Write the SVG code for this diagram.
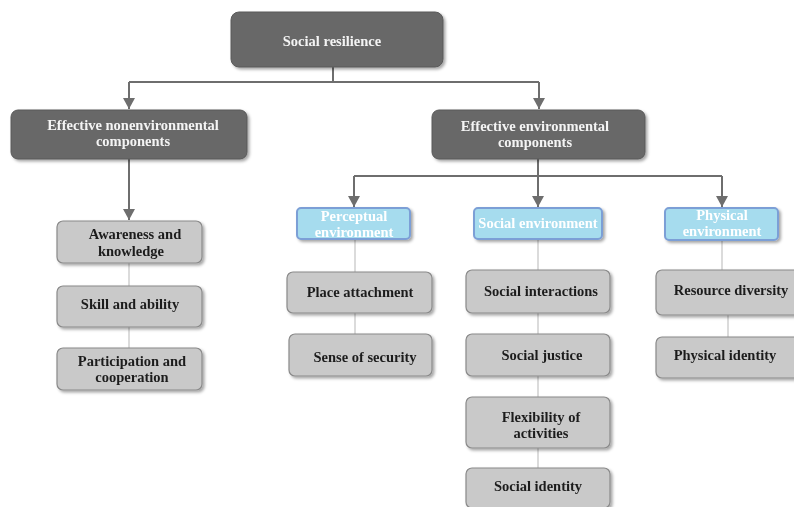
<svg xmlns="http://www.w3.org/2000/svg" width="794" height="507" viewBox="0 0 794 507">
<defs>
<style>
.dark{fill:#686868;stroke:#5a5a5a;stroke-width:1}
.blue{fill:#a6dcee;stroke:#7c9fd6;stroke-width:2}
.gray{fill:#c9c9c9;stroke:#8a8a8a;stroke-width:1.2}
text{font-family:"Liberation Serif","Times New Roman",serif;font-weight:bold;font-size:14.5px;text-anchor:middle}
.wt{fill:#f4f4f4}
.bt{fill:#ffffff}
.kt{fill:#1e1e1e}
.arrow{fill:none;stroke:#6e6e6e;stroke-width:2}
.thin{fill:none;stroke:#c4c4c4;stroke-width:1.2}
</style>
<filter id="sh" x="-10%" y="-10%" width="130%" height="140%">
<feDropShadow dx="2" dy="2" stdDeviation="1.5" flood-color="#000" flood-opacity="0.35"/>
</filter>
<marker id="ah" viewBox="0 0 11 12" refX="11" refY="6" markerWidth="11" markerHeight="12" markerUnits="userSpaceOnUse" orient="auto">
<path d="M0,0 L11,6 L0,12 Z" fill="#6e6e6e"/>
</marker>
</defs>
<rect width="794" height="507" fill="#ffffff"/>

<g id="connectors">
<path class="arrow" d="M333,67 V82"/>
<path class="arrow" d="M129,82 H539"/>
<line class="arrow" x1="129" y1="82" x2="129" y2="109" marker-end="url(#ah)"/>
<line class="arrow" x1="539" y1="82" x2="539" y2="109" marker-end="url(#ah)"/>
<line class="arrow" x1="129" y1="159" x2="129" y2="220" marker-end="url(#ah)"/>
<line class="arrow" x1="538" y1="159" x2="538" y2="207" marker-end="url(#ah)"/>
<path class="arrow" d="M354,176 H722"/>
<line class="arrow" x1="354" y1="176" x2="354" y2="207" marker-end="url(#ah)"/>
<line class="arrow" x1="722" y1="176" x2="722" y2="207" marker-end="url(#ah)"/>
<path class="thin" d="M129,263 V286 M129,327 V348"/>
<path class="thin" d="M355,240 V272 M355,313 V334"/>
<path class="thin" d="M538,240 V270 M538,313 V334 M538,376 V397 M538,448 V468"/>
<path class="thin" d="M722,240 V270 M728,315 V337"/>
</g>

<g id="root" filter="url(#sh)">
<rect class="dark" x="231" y="12" width="212" height="55" rx="8"/>
<text class="wt" x="332" y="46">Social resilience</text>
</g>

<g id="nonenv" filter="url(#sh)">
<rect class="dark" x="11" y="110" width="236" height="49" rx="7"/>
<text class="wt" x="133" y="130">Effective nonenvironmental</text>
<text class="wt" x="133" y="146">components</text>
</g>

<g id="env" filter="url(#sh)">
<rect class="dark" x="432" y="110" width="213" height="49" rx="7"/>
<text class="wt" x="535" y="131">Effective environmental</text>
<text class="wt" x="535" y="147">components</text>
</g>

<g id="perceptual" filter="url(#sh)">
<rect class="blue" x="297" y="208" width="113" height="31" rx="4"/>
<text class="bt" x="354" y="221">Perceptual</text>
<text class="bt" x="354" y="237">environment</text>
</g>

<g id="socialenv" filter="url(#sh)">
<rect class="blue" x="474" y="208" width="128" height="31" rx="4"/>
<text class="bt" x="538" y="228">Social environment</text>
</g>

<g id="physicalenv" filter="url(#sh)">
<rect class="blue" x="665" y="208" width="113" height="32" rx="4"/>
<text class="bt" x="722" y="220">Physical</text>
<text class="bt" x="722" y="236">environment</text>
</g>

<g id="awareness" filter="url(#sh)">
<rect class="gray" x="57" y="221" width="145" height="42" rx="6"/>
<text class="kt" x="135" y="239">Awareness and</text>
<text class="kt" x="131" y="256">knowledge</text>
</g>

<g id="skill" filter="url(#sh)">
<rect class="gray" x="57" y="286" width="145" height="41" rx="6"/>
<text class="kt" x="130" y="309">Skill and ability</text>
</g>

<g id="participation" filter="url(#sh)">
<rect class="gray" x="57" y="348" width="145" height="42" rx="6"/>
<text class="kt" x="132" y="366">Participation and</text>
<text class="kt" x="132" y="382">cooperation</text>
</g>

<g id="place" filter="url(#sh)">
<rect class="gray" x="287" y="272" width="145" height="41" rx="6"/>
<text class="kt" x="360" y="297">Place attachment</text>
</g>

<g id="security" filter="url(#sh)">
<rect class="gray" x="289" y="334" width="143" height="42" rx="6"/>
<text class="kt" x="365" y="362">Sense of security</text>
</g>

<g id="interactions" filter="url(#sh)">
<rect class="gray" x="466" y="270" width="144" height="43" rx="6"/>
<text class="kt" x="541" y="296">Social interactions</text>
</g>

<g id="justice" filter="url(#sh)">
<rect class="gray" x="466" y="334" width="144" height="42" rx="6"/>
<text class="kt" x="542" y="360">Social justice</text>
</g>

<g id="flexibility" filter="url(#sh)">
<rect class="gray" x="466" y="397" width="144" height="51" rx="6"/>
<text class="kt" x="541" y="422">Flexibility of</text>
<text class="kt" x="541" y="438">activities</text>
</g>

<g id="socialidentity" filter="url(#sh)">
<rect class="gray" x="466" y="468" width="144" height="40" rx="6"/>
<text class="kt" x="538" y="491">Social identity</text>
</g>

<g id="resource" filter="url(#sh)">
<rect class="gray" x="656" y="270" width="145" height="45" rx="6"/>
<text class="kt" x="731" y="295">Resource diversity</text>
</g>

<g id="physicalidentity" filter="url(#sh)">
<rect class="gray" x="656" y="337" width="145" height="41" rx="6"/>
<text class="kt" x="725" y="360">Physical identity</text>
</g>
</svg>
